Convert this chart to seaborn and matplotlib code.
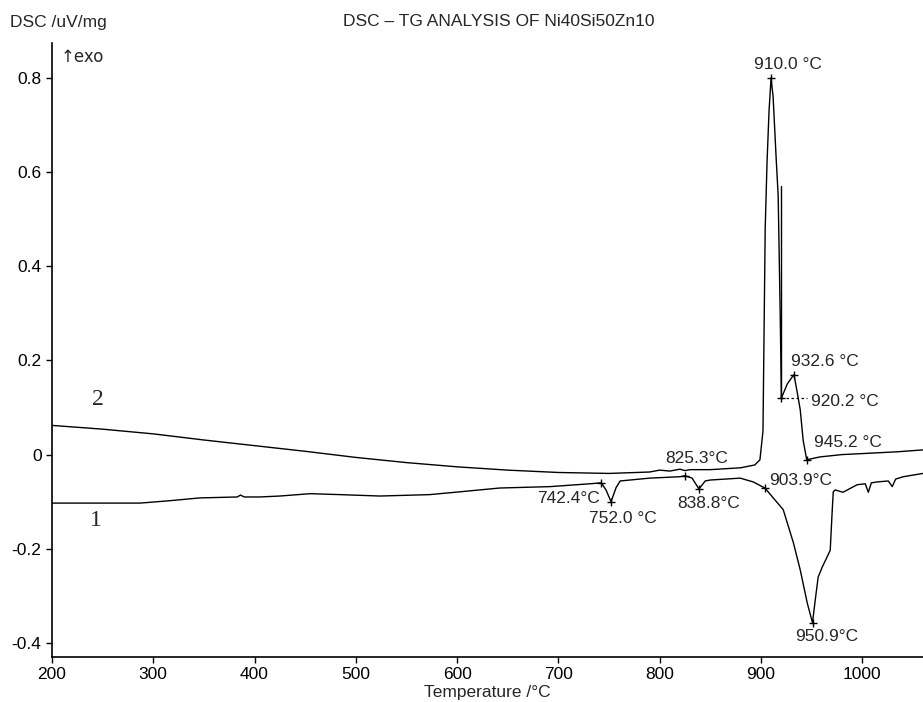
import matplotlib
matplotlib.use("Agg")
import matplotlib.pyplot as plt
import seaborn as sns
import pandas as pd
from matplotlib.ticker import FuncFormatter

# Curve 2 (upper DSC trace)
temp_2 = [200, 250, 300, 350, 400, 450, 500, 550, 600, 650, 700, 750, 790, 800, 810,
          820, 825, 830, 850, 880, 894, 899, 902, 904.2, 906, 908, 910, 912, 915,
          917, 919, 920.2, 926, 932.6, 936, 938.8, 941.7, 945.2, 958, 980, 1008,
          1035, 1060]
dsc_2 = [0.062, 0.054, 0.044, 0.031, 0.019, 0.007, -0.006, -0.017, -0.026, -0.033,
         -0.038, -0.040, -0.037, -0.033, -0.035, -0.031, -0.034, -0.032, -0.032,
         -0.028, -0.022, -0.011, 0.05, 0.48, 0.62, 0.73, 0.80, 0.76, 0.63, 0.55,
         0.30, 0.12, 0.15, 0.17, 0.13, 0.095, 0.03, -0.011, -0.005, 0.0, 0.003,
         0.006, 0.01]

# Curve 1 (lower DSC trace)
temp_1 = [200, 287, 316, 346, 383, 386, 390, 405, 425, 455, 484, 524, 573, 603, 642,
          692, 731, 742.4, 747, 752.0, 757, 761, 790, 820, 825.3, 832, 838.8, 845,
          850, 879.5, 892.3, 903.9, 922, 932, 938.8, 945.7, 950.9, 953.6, 956.5,
          960.5, 965.4, 968.4, 970.4, 971.4, 973.3, 981, 995, 1003, 1006, 1009,
          1015, 1025.7, 1029.6, 1033, 1040.5, 1060]
dsc_1 = [-0.103, -0.103, -0.098, -0.092, -0.090, -0.086, -0.090, -0.090, -0.088,
         -0.083, -0.085, -0.088, -0.085, -0.079, -0.071, -0.068, -0.062, -0.060,
         -0.075, -0.100, -0.070, -0.056, -0.050, -0.047, -0.045, -0.050, -0.073,
         -0.056, -0.054, -0.050, -0.058, -0.071, -0.117, -0.187, -0.245, -0.315,
         -0.357, -0.309, -0.260, -0.239, -0.217, -0.203, -0.117, -0.079, -0.075,
         -0.080, -0.064, -0.062, -0.080, -0.060, -0.058, -0.056, -0.068, -0.052,
         -0.047, -0.040]

# Marked points: (temperature, value, label, label x, label y)
marks_2 = [(910.0, 0.80, "910.0 °C", 927, 0.828),
           (932.6, 0.17, "932.6 °C", 963.5, 0.197),
           (920.2, 0.12, "920.2 °C", 983, 0.112),
           (945.2, -0.011, "945.2 °C", 986, 0.025)]
marks_1 = [(742.4, -0.060, "742.4°C", 709.6, -0.094),
           (752.0, -0.100, "752.0 °C", 764, -0.135),
           (825.3, -0.045, "825.3°C", 837, -0.009),
           (838.8, -0.073, "838.8°C", 848, -0.103),
           (903.9, -0.071, "903.9°C", 938.8, -0.054),
           (950.9, -0.357, "950.9°C", 964.5, -0.387)]

sns.set_style("ticks")
plt.rcParams["font.family"] = ["Liberation Sans", "DejaVu Sans"]

df2 = pd.DataFrame({"T": temp_2, "DSC": dsc_2})
df1 = pd.DataFrame({"T": temp_1, "DSC": dsc_1})

fig = plt.figure(figsize=(9.23, 7.02), dpi=100)
ax = fig.add_axes([0.0563, 0.064, 0.9437, 0.8747])

sns.lineplot(data=df2, x="T", y="DSC", ax=ax, color="black", linewidth=1.0, sort=False)
sns.lineplot(data=df1, x="T", y="DSC", ax=ax, color="black", linewidth=1.0, sort=False)

# onset construction at 920.2
ax.plot([920.2, 920.2], [0.12, 0.57], color="black", linewidth=1.0)
ax.plot([920.2, 945], [0.12, 0.12], color="black", linewidth=0.9, linestyle=(0, (2, 2)))

for t, v, lab, lx, ly in marks_2 + marks_1:
    ax.plot(t, v, marker="+", color="black", markersize=6, markeredgewidth=1.0)
    ax.text(lx, ly, lab, ha="center", va="center", fontsize=12.5)

ax.text(245, 0.116, "2", family=["Liberation Serif"], fontsize=17, ha="center", va="center")
ax.text(243.5, -0.14, "1", family=["Liberation Serif"], fontsize=17, ha="center", va="center")
ax.text(209, 0.845, "↑exo", fontsize=12, ha="left", va="center", family=["DejaVu Sans"])

ax.set_xlim(200, 1060)
ax.set_ylim(-0.43, 0.874)
ax.set_xticks([200, 300, 400, 500, 600, 700, 800, 900, 1000])
ax.set_yticks([-0.4, -0.2, 0, 0.2, 0.4, 0.6, 0.8])
ax.yaxis.set_major_formatter(FuncFormatter(lambda v, p: "0" if abs(v) < 1e-9 else f"{v:.1f}"))
ax.tick_params(labelsize=12.5, length=4, width=1, colors="black")
ax.set_xlabel("Temperature /°C", fontsize=12.5, labelpad=2)
ax.set_ylabel("")
sns.despine(ax=ax, top=True, right=True)
for s in ["left", "bottom"]:
    ax.spines[s].set_color("black")
    ax.spines[s].set_linewidth(1.2)

fig.text(10 / 923, 1 - 22 / 702, "DSC /uV/mg", ha="left", va="center", fontsize=12.5)
fig.text(499 / 923, 1 - 22 / 702, "DSC – TG ANALYSIS OF Ni40Si50Zn10", ha="center",
         va="center", fontsize=12.5)

fig.savefig("out.png", dpi=100, facecolor="white")
